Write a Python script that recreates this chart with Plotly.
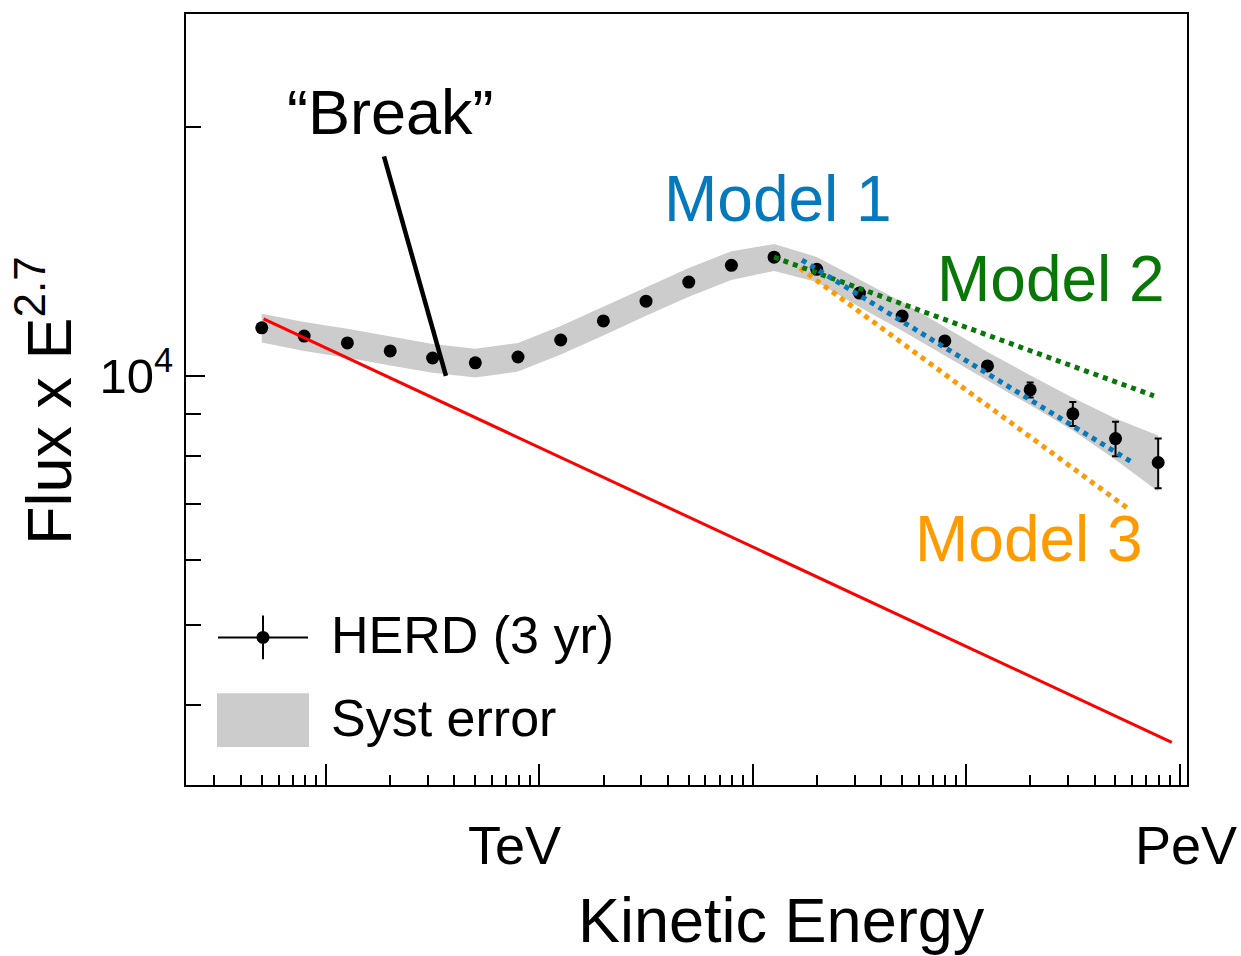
import plotly.graph_objects as go

# ---------------- data ----------------
energy_gev = [50, 79, 126, 200, 316, 501, 794, 1259, 1995, 3162, 5012, 7943,
              12589, 19953, 31623, 50119, 79433, 125893, 199526, 316228, 501187, 794328]
flux_e27 = [11430, 11170, 10960, 10720, 10510, 10370, 10540, 11050, 11650, 12310, 12980, 13600,
            13910, 13450, 12590, 11810, 11020, 10280, 9620, 9000, 8400, 7860]
stat_err = [20, 20, 20, 20, 20, 20, 25, 25, 25, 30, 30, 35,
            35, 40, 45, 60, 90, 120, 200, 300, 400, 545]
syst_err = [460, 450, 440, 430, 420, 415, 420, 440, 465, 490, 520, 545,
            520, 470, 480, 470, 440, 410, 400, 410, 480, 610]

red_e = [51, 920000]
red_flux = [11720, 3610]

model1_e = [17006, 604800]
model1_flux = [13798, 7855]
model2_e = [12589, 758600]
model2_flux = [13910, 9461]
model3_e = [16643, 573100]
model3_flux = [13493, 6916]

break_e = [187, 365]
break_flux = [18410, 10000]

x_major = [1e2, 1e3, 1e4, 1e5, 1e6]
x_minor = [k * 10 ** n for n in range(1, 6) for k in range(2, 10)]
y_major = [1e4]
y_minor = [4000, 5000, 6000, 7000, 8000, 9000, 20000]

BLUE = "#0679bd"
GREEN = "#087708"
ORANGE = "#ff9a00"
FONT = "Liberation Sans, Arial, Helvetica, sans-serif"

# ---------------- figure ----------------
band_x = energy_gev + energy_gev[::-1]
band_y = [f + e for f, e in zip(flux_e27, syst_err)] + \
         [f - e for f, e in zip(flux_e27, syst_err)][::-1]

fig = go.Figure()
fig.add_trace(go.Scatter(x=band_x, y=band_y, fill="toself", fillcolor="#cccccc",
                         line=dict(width=0), mode="lines", hoverinfo="skip", showlegend=False))
fig.add_trace(go.Scatter(x=energy_gev, y=flux_e27, mode="markers",
                         marker=dict(color="black", size=13),
                         error_y=dict(type="data", array=stat_err, visible=True,
                                      thickness=2, width=3.5, color="black"),
                         showlegend=False))
fig.add_trace(go.Scatter(x=red_e, y=red_flux, mode="lines",
                         line=dict(color="#ff0000", width=3), showlegend=False))
fig.add_trace(go.Scatter(x=model3_e, y=model3_flux, mode="lines",
                         line=dict(color=ORANGE, width=5, dash="dot"), showlegend=False))
fig.add_trace(go.Scatter(x=model2_e, y=model2_flux, mode="lines",
                         line=dict(color=GREEN, width=5, dash="dot"), showlegend=False))
fig.add_trace(go.Scatter(x=model1_e, y=model1_flux, mode="lines",
                         line=dict(color=BLUE, width=5, dash="dot"), showlegend=False))
fig.add_trace(go.Scatter(x=break_e, y=break_flux, mode="lines",
                         line=dict(color="black", width=4.5), showlegend=False))

L, R, T, B = 186, 1187, 12, 785
W, H = 1241, 956


def px(x):
    return (x - L) / (R - L)


def py(y):
    return (B - y) / (B - T)


annos = [
    ("\u201cBreak\u201d", 390, 110, 63, "black", "center", 0),
    ("Model 1", 778, 197, 64, BLUE, "center", 0),
    ("Model 2", 1051, 278, 64, GREEN, "center", 0),
    ("Model 3", 1029, 538, 64, ORANGE, "center", 0),
    ("TeV", 514, 845, 54, "black", "center", 0),
    ("PeV", 1186, 845, 54, "black", "center", 0),
    ("Kinetic Energy", 781, 920, 63, "black", "center", 0),
    ("HERD (3 yr)", 329, 635, 52, "black", "left", 0),
    ("Syst error", 329, 718, 52, "black", "left", 0),
    ("Flux x E<sup>2.7</sup>", 45, 400, 63, "black", "center", -90),
]
for text, x, y, size, color, xa, ang in annos:
    fig.add_annotation(text=text, x=px(x), y=py(y), xref="paper", yref="paper",
                       showarrow=False, xanchor=xa, yanchor="middle", textangle=ang,
                       font=dict(size=size, color=color, family=FONT))

# legend keys
fig.add_shape(type="rect", xref="paper", yref="paper", x0=px(217), x1=px(309),
              y0=py(747), y1=py(693), fillcolor="#cccccc", line=dict(width=0))
fig.add_shape(type="line", xref="paper", yref="paper", x0=px(218), x1=px(308),
              y0=py(637), y1=py(637), line=dict(color="black", width=2))
fig.add_shape(type="line", xref="paper", yref="paper", x0=px(263), x1=px(263),
              y0=py(615), y1=py(659), line=dict(color="black", width=2))
fig.add_shape(type="circle", xref="paper", yref="paper", x0=px(256.5), x1=px(269.5),
              y0=py(643.5), y1=py(630.5), fillcolor="black", line=dict(width=0))

fig.update_layout(
    width=W, height=H,
    margin=dict(l=L, r=W - R, t=T, b=H - B, pad=0),
    paper_bgcolor="white", plot_bgcolor="white",
    font=dict(family=FONT, color="black"),
    showlegend=False,
)
fig.update_xaxes(type="log", range=[1.344, 6.035], showgrid=False, zeroline=False,
                 showline=True, linecolor="black", linewidth=2, mirror=True,
                 tickmode="array", tickvals=x_major, ticks="inside", ticklen=21,
                 tickwidth=2, tickcolor="black", showticklabels=False,
                 minor=dict(tickmode="array", tickvals=x_minor, ticks="inside",
                            ticklen=10, tickwidth=2, tickcolor="black", showgrid=False))
fig.update_yaxes(type="log", range=[3.506, 4.437], showgrid=False, zeroline=False,
                 showline=True, linecolor="black", linewidth=2, mirror=True,
                 tickmode="array", tickvals=y_major, ticktext=["10<sup>4</sup>"],
                 ticks="inside", ticklen=19, tickwidth=2, tickcolor="black",
                 tickfont=dict(size=49, family=FONT), ticklabelstandoff=1,
                 minor=dict(tickmode="array", tickvals=y_minor, ticks="inside",
                            ticklen=15, tickwidth=2, tickcolor="black", showgrid=False))

fig.write_html("out.html")
